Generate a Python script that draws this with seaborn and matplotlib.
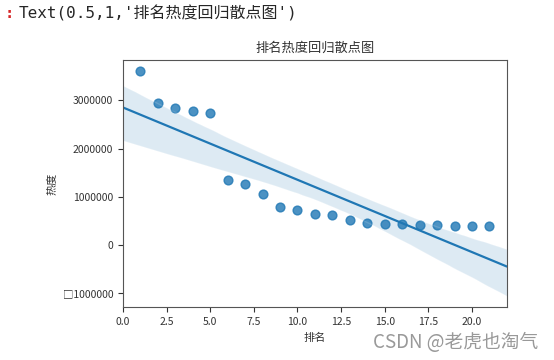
import pandas as pd
import matplotlib.pyplot as plt
import seaborn as sns
from matplotlib.ticker import FuncFormatter

# ranking data
rank = list(range(1, 22))
heat = [3604000, 2958000, 2840000, 2790000, 2750000, 1350000, 1270000,
        1056000, 800000, 720000, 650000, 630000, 515000, 470000, 440000,
        440000, 420000, 420000, 400000, 400000, 400000]

title = "排名热度回归散点图"

df = pd.DataFrame({"排名": rank, "热度": heat})

sns.set_style("ticks")
plt.rcParams["font.family"] = ["Noto Sans CJK SC", "DejaVu Sans"]

fig = plt.figure(figsize=(5.54, 3.6), dpi=100)
ax = fig.add_axes([0.222, 0.147, 0.693, 0.686])

sns.regplot(x="排名", y="热度", data=df, ax=ax, seed=0, truncate=False,
            scatter_kws={"s": 40}, line_kws={"lw": 1.6})

ax.set_xlim(0, 22)
ax.set_title(title, fontsize=9.5, color="#333333", pad=6)
ax.set_xlabel("排名", fontsize=8, color="#333333")
ax.set_ylabel("热度", fontsize=8, color="#333333")
ax.tick_params(labelsize=7.5, colors="#333333")


def fmt(v, pos):
    # the original rendered the minus sign as a missing-glyph box
    if v < 0:
        return "□" + str(int(abs(v)))
    return str(int(v))


ax.yaxis.set_major_formatter(FuncFormatter(fmt))
for s in ax.spines.values():
    s.set_color("#555555")

# notebook output line and watermark
fig.text(0.008, 0.963, ":", color="#d62728", fontsize=11,
         family=["DejaVu Sans Mono"], va="center", fontweight="bold")
fig.text(0.033, 0.963, "Text(0.5,1,'" + title + "')", fontsize=11.5,
         family=["DejaVu Sans Mono", "Noto Sans CJK SC"], va="center")
fig.text(0.972, 0.05, "CSDN @老虎也淘气", fontsize=13.5, color="#999999",
         ha="right", va="center")

fig.savefig("out.png", dpi=100)
